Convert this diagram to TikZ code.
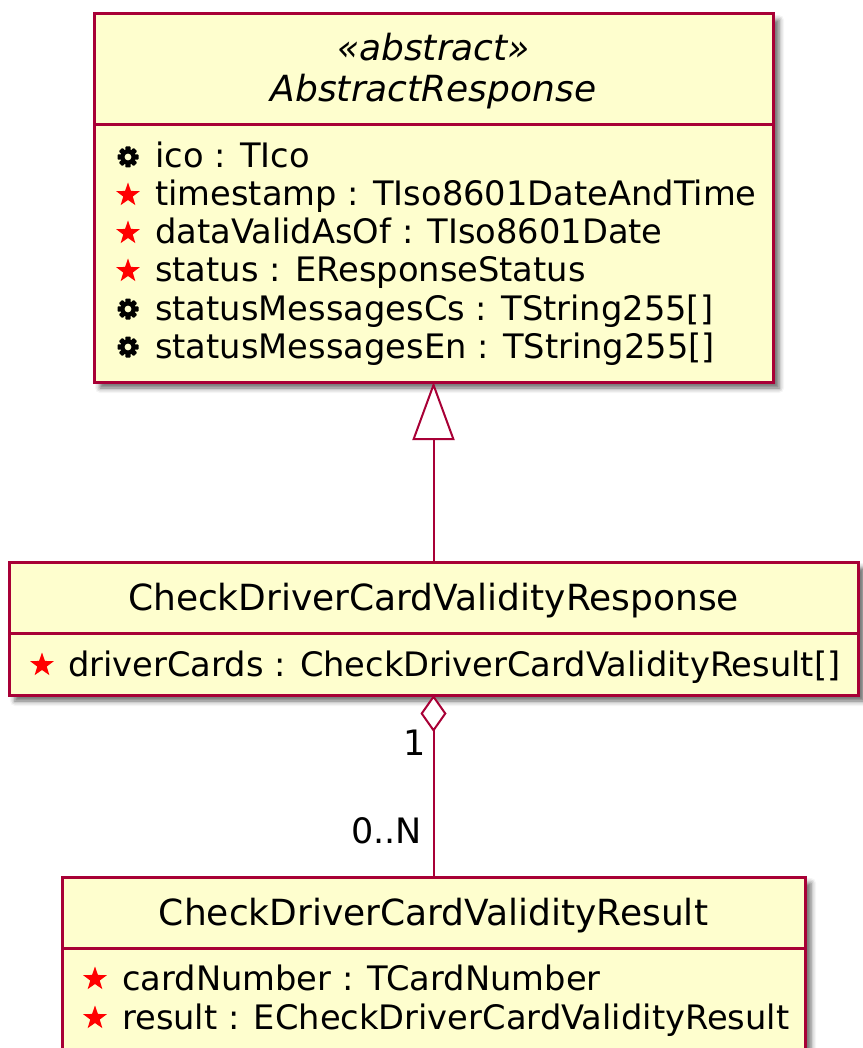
\documentclass[tikz,border=0pt]{standalone}
\usepackage{fontspec}
\setmainfont{DejaVu Sans}
\usetikzlibrary{arrows.meta,shapes.geometric,shadows.blur}
\definecolor{umlborder}{HTML}{A80036}
\definecolor{umlfill}{HTML}{FEFECE}
\begin{document}
\begin{tikzpicture}[x=1pt,y=-1pt,
  classbox/.style={draw=umlborder, fill=umlfill, line width=3pt, inner sep=0pt, outer sep=0pt, anchor=north west,
    blur shadow={shadow xshift=6pt, shadow yshift=-6pt, shadow blur radius=5pt, shadow opacity=60}},
  sepline/.style={draw=umlborder, line width=3pt},
  ttl/.style={anchor=base, inner sep=0pt, font=\fontsize{36}{40}\selectfont},
  attr/.style={anchor=base west, inner sep=0pt, font=\fontsize{33.7}{38}\selectfont},
  redstar/.style={star, star points=5, star point ratio=2.5, fill=red, draw=none, minimum size=25pt, inner sep=0pt},
  conn/.style={draw=umlborder, line width=2pt},
  mult/.style={anchor=base east, inner sep=0pt, font=\fontsize{35}{38}\selectfont},
  cogicon/.pic={\fill[black] (0,0) circle (7.5);
    \foreach \a in {0,45,...,315}{\fill[black,rotate=\a, rounded corners=0.8pt] (-2.6,4) rectangle (2.6,10.5);}
    \fill[umlfill] (0,0) circle (3.4);}
]
\useasboundingbox (0,0) rectangle (862,1048);

% AbstractResponse
\node[classbox, minimum width=679pt, minimum height=368pt] (abs) at (94,14) {};
\draw[sepline] (94,125) -- (773,125);
\node[ttl, font=\fontsize{36}{40}\selectfont\itshape] (absst) at (433.5,61) {«abstract»};
\node[ttl, font=\fontsize{36}{40}\selectfont\itshape] (absname) at (433.5,102) {AbstractResponse};
\pic at (128,157) {cogicon};
\node[attr] (a1) at (155,168) {ico : TIco};
\node[redstar] (s2) at (128,195) {};
\node[attr] (a2) at (155,206) {timestamp : TIso8601DateAndTime};
\node[redstar] (s3) at (128,233) {};
\node[attr] (a3) at (155,244) {dataValidAsOf : TIso8601Date};
\node[redstar] (s4) at (128,271) {};
\node[attr] (a4) at (155,282) {status : EResponseStatus};
\pic at (128,309) {cogicon};
\node[attr] (a5) at (155,320) {statusMessagesCs : TString255[]};
\pic at (128,347) {cogicon};
\node[attr] (a6) at (155,358) {statusMessagesEn : TString255[]};

% CheckDriverCardValidityResponse
\node[classbox, minimum width=849pt, minimum height=133pt] (resp) at (9,562) {};
\draw[sepline] (9,633) -- (858,633);
\node[ttl] (respname) at (433.5,610) {CheckDriverCardValidityResponse};
\node[redstar] (s5) at (42,665) {};
\node[attr] (r1) at (68,676) {driverCards : CheckDriverCardValidityResult[]};

% CheckDriverCardValidityResult
\node[classbox, minimum width=743pt, minimum height=200pt] (res) at (62,877) {};
\draw[sepline] (62,948) -- (805,948);
\node[ttl] (resname) at (433.5,925) {CheckDriverCardValidityResult};
\node[redstar] (s6) at (95,979) {};
\node[attr] (c1) at (122,990) {cardNumber : TCardNumber};
\node[redstar] (s7) at (95,1018) {};
\node[attr] (c2) at (122,1029) {result : ECheckDriverCardValidityResult};

% connectors
\draw[conn, -{Triangle[length=58pt, width=42pt, fill=white]}] (resp.north) -- (abs.south);
\draw[conn, {Diamond[length=37pt, width=26pt, fill=white]}-] (resp.south) -- (res.north);
\node[mult] (m1) at (426,755) {1};
\node[mult] (m2) at (422,843) {0..N};
\end{tikzpicture}
\end{document}
